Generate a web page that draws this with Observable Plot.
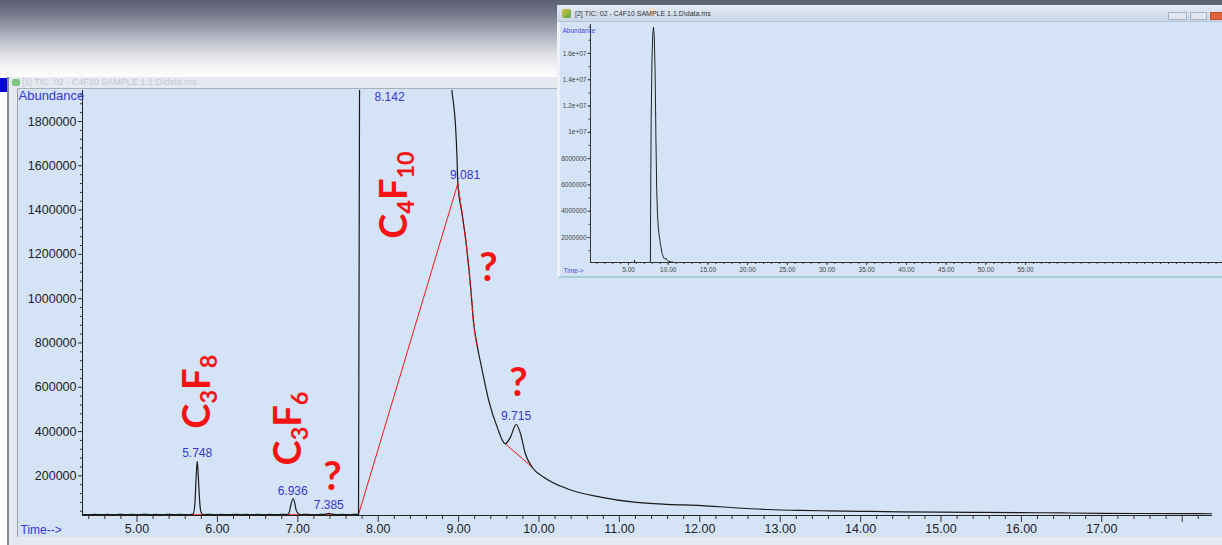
<!DOCTYPE html>
<html><head><meta charset="utf-8">
<script src="https://cdn.jsdelivr.net/npm/d3@7"></script>
<script src="https://cdn.jsdelivr.net/npm/@observablehq/plot@0.6"></script>
<style>
body{margin:0;width:1222px;height:545px;overflow:hidden;background:#fff;position:relative;font-family:"Liberation Sans",Arial,sans-serif}
.abs{position:absolute}
#banner{left:0;top:0;width:1222px;height:80px;background:linear-gradient(to bottom,#5c6073 0%,#767a8c 18%,#aaadba 42%,#dadbe1 65%,#f6f6f8 85%,#fff 100%)}
#bluesq{left:0;top:78px;width:7px;height:14px;background:#0606d2}
#mainwin{left:7px;top:77px;width:1215px;height:468px;background:#e6eaf0;border-left:2px solid #858a93;box-sizing:border-box}
#maintitle{left:22px;top:77px;height:11px;font-size:9px;line-height:11px;color:#c3c8d0;white-space:nowrap}
#mainicon{left:12px;top:79px;width:8px;height:7px;background:#7cc47a;border-radius:2px}
#mainplot{left:17px;top:88px;width:1205px;height:449px;background:#d5e3f7;border-left:1px solid #9aa1ac;border-top:1px solid #a9b0ba;box-sizing:border-box}
#mainsvg{left:17px;top:88px}
#insetwin{left:557px;top:5px;width:665px;height:273px;background:#d5e3f7;border-left:3px solid #eef2f7;border-bottom:2px solid #a9cfd6;box-sizing:border-box}
#insettitle{left:557px;top:5px;width:665px;height:17px;background:linear-gradient(to bottom,#e3ebf5,#c9d7e8);border-bottom:1px solid #b7c3d2;box-sizing:border-box}
#insettitletext{left:575px;top:9px;font-size:7px;line-height:9px;color:#333;white-space:nowrap}
#insicon{left:562px;top:9px;width:9px;height:9px;background:linear-gradient(135deg,#e6c23a,#4aa84a);border-radius:2px}
.btn{top:12px;height:8px;border:1px solid #a8b4c4;background:#dfe6ef;box-sizing:border-box}
#insetsvg{left:560px;top:22px}
</style></head><body>
<div id="banner" class="abs"></div>
<div id="mainwin" class="abs"></div>
<div id="bluesq" class="abs"></div>
<div id="mainicon" class="abs"></div>
<div id="maintitle" class="abs">[1] TIC: 02 - C4F10 SAMPLE 1.1.D\data.ms</div>
<div id="mainplot" class="abs"></div>
<div id="mainsvg" class="abs"></div>
<div id="insetwin" class="abs"></div>
<div id="insettitle" class="abs"></div>
<div id="insicon" class="abs"></div>
<div id="insettitletext" class="abs">[2] TIC: 02 - C4F10 SAMPLE 1.1.D\data.ms</div>
<div class="abs btn" style="left:1168px;width:19px"></div>
<div class="abs btn" style="left:1190px;width:17px"></div>
<div class="abs btn" style="left:1210px;width:14px;background:#e0623a;border-color:#c05030"></div>
<div id="insetsvg" class="abs"></div>
<script>
// ---- chromatogram trace (retention time, min / abundance) ----
const traceTime = [4.33,4.40,4.48,4.55,4.63,4.70,4.78,4.85,4.93,5.00,5.08,5.15,5.23,5.30,5.38,5.45,5.53,5.60,5.66,
  5.70,5.72,5.735,5.749,5.76,5.775,5.79,5.81,5.84,5.90,5.98,6.05,6.13,6.20,6.28,6.35,6.43,6.50,6.58,6.65,6.73,6.80,6.86,
  6.89,6.91,6.94,6.96,6.98,7.01,7.05,7.12,7.20,7.28,7.34,7.385,7.42,7.48,7.55,7.62,7.70,7.755,
  7.78,7.85,7.95,8.05,8.142,8.25,8.35,8.45,8.55,8.65,8.75,8.85,8.92,8.96,8.98,8.99,9.045,9.10,9.15,9.19,9.23,9.285,9.375,
  9.48,9.58,9.645,9.715,9.77,9.83,9.915,10.06,10.35,10.765,11.18,11.6,12.02,12.42,12.84,13.25,13.6,14.0,14.5,15.0,15.5,
  16.0,16.5,17.0,17.5,18.0,18.377];
const traceAbund = [25500,24800,26200,25000,25900,24700,26400,25200,25800,24900,26100,25300,25900,24800,26300,25100,25700,25000,25600,
  29000,75000,190000,265000,215000,110000,45000,28000,25500,26200,25000,25900,24900,26300,25100,25800,24800,26000,25200,25700,25000,26100,25600,
  32000,62000,96600,80000,45000,28000,25400,26000,25100,25800,26500,31000,26800,25300,25900,25100,25700,26000,
  4200000,11000000,15500000,17400000,18000000,17200000,14500000,9500000,5600000,3700000,2750000,2200000,1930000,1790000,1640000,1520000,1380000,1230000,1050000,880000,790000,691000,540000,
  420000,345000,375000,432000,390000,300000,239000,194000,142000,104000,81000,71000,66000,56000,48000,44000,42000,40000,37500,36000,35000,
  34000,32500,31000,30000,29500,29000];

// ---- integration marks drawn by the software (red) ----
const baseT1 = [5.65, 6.82, 7.31, 7.755, 9.58];
const baseA1 = [24500, 24500, 24500, 25000, 345000];
const baseT2 = [5.95, 7.06, 7.44, 8.99, 9.915];
const baseA2 = [24500, 24500, 24500, 1520000, 239000];

// ---- peak retention-time labels ----
const peakTimes = [5.748, 6.936, 7.385, 9.081, 9.715];
const peakAbund = [265000, 96600, 31000, 1520000, 432000];
const offscalePeak = [8.142];

// ---- red annotations ----
const formulas = ["C3F8", "C3F6", "C4F10"];
const formulaT = [5.752, 6.885, 8.203];
const formulaA = [580000, 414000, 1468000];
const questT = [7.432, 9.372, 9.745];
const questA = [192800, 1136000, 617000];

// ---- axes ----
const yTicks = [200000,400000,600000,800000,1000000,1200000,1400000,1600000,1800000];
const yTickLabels = ["200000","400000","600000","800000","1000000","1200000","1400000","1600000","1800000"];
const xTicks = [5,6,7,8,9,10,11,12,13,14,15,16,17,18];
const xTickLabels = ["5.00","6.00","7.00","8.00","9.00","10.00","11.00","12.00","13.00","14.00","15.00","16.00","17.00",""];

// ---- inset (full run) axes ----
const insetYTicks = [2000000,4000000,6000000,8000000,10000000,12000000,14000000,16000000];
const insetYLabels = ["2000000","4000000","6000000","8000000","1e+07","1.2e+07","1.4e+07","1.6e+07"];
const insetXTicks = [5,10,15,20,25,30,35,40,45,50,55];
const insetXLabels = ["5.00","10.00","15.00","20.00","25.00","30.00","35.00","40.00","45.00","50.00","55.00"];
const insetEnd = 13.4;

const trace = traceTime.map((t, i) => ({t, a: traceAbund[i]}));
const baseSegs = baseT1.map((t, i) => ({x1: t, y1: baseA1[i], x2: baseT2[i], y2: baseA2[i]}));
const peaks = peakTimes.map((t, i) => ({t, a: peakAbund[i]}));
const forms = formulas.map((f, i) => ({f, t: formulaT[i], a: formulaA[i]}));
const quests = questT.map((t, i) => ({t, a: questA[i]}));

const X0 = 4.322, X1 = 18.377, Y0 = 21000, Y1 = 1940000;
const yMinor = d3.range(40000, 1920001, 40000).filter(v => v % 200000 !== 0);
const xMinor = d3.range(44, 183, 2).map(v => v / 10).filter(v => Math.abs(v - Math.round(v)) > 1e-6);
const BLUE = "#3636d4", RED = "#f41414";
const TICKFONT = "'Liberation Sans', Arial, sans-serif";
const BIG = "Lato, 'Open Sans', sans-serif";

const main = Plot.plot({
  width: 1205, height: 449,
  marginLeft: 65, marginRight: 10, marginTop: 2, marginBottom: 22,
  style: {background: "transparent", fontFamily: TICKFONT, fontSize: "12.5px", color: "#222", overflow: "visible"},
  x: {domain: [X0, X1], label: null},
  y: {domain: [Y0, Y1], label: null},
  marks: [
    Plot.axisY({ticks: yMinor, tickSize: 2, tickFormat: () => "", stroke: "#333", label: null}),
    Plot.axisY({ticks: yTicks, tickSize: 4, tickPadding: 2, tickFormat: d => yTickLabels[yTicks.indexOf(d)], stroke: "#333", label: null}),
    Plot.axisX({ticks: xMinor, tickSize: 4, tickFormat: () => "", stroke: "#333", label: null}),
    Plot.axisX({ticks: xTicks, tickSize: 7, tickPadding: 2, tickFormat: d => xTickLabels[xTicks.indexOf(d)], stroke: "#333", label: null}),
    Plot.ruleX([X0], {stroke: "#222"}),
    Plot.ruleY([Y0], {stroke: "#222"}),
    Plot.link(baseSegs, {x1: "x1", y1: "y1", x2: "x2", y2: "y2", stroke: RED, strokeWidth: 1, clip: true}),
    Plot.line(trace, {x: "t", y: "a", stroke: "#1a1a1a", strokeWidth: 1.2, curve: "monotone-x", clip: true}),
    Plot.line(trace.filter(d => d.t >= 8.99 && d.t <= 9.23), {x: "t", y: "a", stroke: RED, strokeWidth: 1.3, strokeDasharray: "3,4", curve: "monotone-x"}),
    Plot.text(peaks, {x: "t", y: "a", text: d => d.t.toFixed(3), dy: -8, fill: BLUE, fontSize: 12, fontFamily: TICKFONT}),
    Plot.text(offscalePeak, {x: d => d, frameAnchor: "top", lineAnchor: "middle", text: d => d.toFixed(3), dy: 7, fill: BLUE, fontSize: 12, fontFamily: TICKFONT}),
    Plot.text(["Abundance"], {frameAnchor: "top-left", lineAnchor: "middle", textAnchor: "start", dx: -64, dy: 5, fill: BLUE, fontSize: 13, fontFamily: TICKFONT}),
    Plot.text(["Time-->"], {frameAnchor: "bottom-left", lineAnchor: "middle", textAnchor: "start", dx: -62, dy: 15, fill: BLUE, fontSize: 12, fontFamily: TICKFONT}),
    Plot.text(forms, {x: "t", y: "a", text: "f", rotate: -90, fill: RED, fontSize: 38, fontWeight: "bold", fontFamily: BIG}),
    Plot.text(quests, {x: "t", y: "a", text: () => "?", fill: RED, fontSize: 40, fontWeight: "bold", fontFamily: BIG})
  ]
});

// chemical formulas with subscripts
d3.select(main).selectAll("text").each(function() {
  const s = this.textContent;
  if (!formulas.includes(s)) return;
  const el = d3.select(this);
  el.text(null);
  const parts = [...s.matchAll(/([A-Z][a-z]?)(\d*)/g)];
  let shifted = false;
  parts.forEach(p => {
    el.append("tspan").attr("dy", shifted ? -7 : null).text(p[1]);
    shifted = false;
    if (p[2]) {
      el.append("tspan").attr("font-size", "62%").attr("dy", 7).text(p[2]);
      shifted = true;
    }
  });
});
document.getElementById("mainsvg").appendChild(main);

const IX0 = 0.21, IX1 = 79.8, IY0 = 99000, IY1 = 18200000;
const inset = Plot.plot({
  width: 662, height: 254,
  marginLeft: 30, marginRight: 0, marginTop: 2, marginBottom: 14,
  style: {background: "transparent", fontFamily: TICKFONT, fontSize: "6.5px", color: "#444", overflow: "visible"},
  x: {domain: [IX0, IX1], label: null},
  y: {domain: [IY0, IY1], label: null},
  marks: [
    Plot.axisY({ticks: d3.range(1000000, 18000001, 1000000), tickSize: 1.5, tickFormat: () => "", stroke: "#444", label: null}),
    Plot.axisY({ticks: insetYTicks, tickSize: 2.5, tickPadding: 1.5, tickFormat: d => insetYLabels[insetYTicks.indexOf(d)], stroke: "#444", label: null}),
    Plot.axisX({ticks: d3.range(1, 80, 1), tickSize: 2, tickFormat: () => "", stroke: "#444", label: null}),
    Plot.axisX({ticks: insetXTicks, tickSize: 3, tickPadding: 2, tickFormat: d => insetXLabels[insetXTicks.indexOf(d)], stroke: "#444", label: null}),
    Plot.ruleX([IX0], {stroke: "#333"}),
    Plot.ruleY([IY0], {stroke: "#333"}),
    Plot.line(trace.filter(d => d.t <= insetEnd), {x: "t", y: "a", stroke: "#222", strokeWidth: 1, clip: true}),
    Plot.text(["Abundance"], {frameAnchor: "top-left", lineAnchor: "middle", textAnchor: "start", dx: -28, dy: 6, fill: "#4a4ad8", fontSize: 6.5, fontFamily: TICKFONT}),
    Plot.text(["Time->"], {frameAnchor: "bottom-left", lineAnchor: "middle", textAnchor: "start", dx: -27, dy: 8, fill: "#4a4ad8", fontSize: 6.5, fontFamily: TICKFONT})
  ]
});
document.getElementById("insetsvg").appendChild(inset);
</script>
</body></html>
